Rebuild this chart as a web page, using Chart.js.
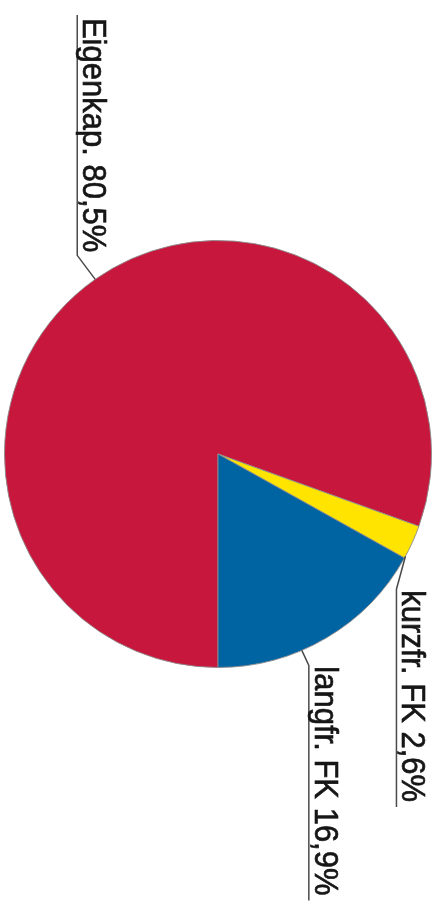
<!DOCTYPE html>
<html>
<head>
<meta charset="utf-8">
<script src="https://cdn.jsdelivr.net/npm/chart.js@4.4.1/dist/chart.umd.min.js"></script>
<style>
  html, body { margin: 0; padding: 0; background: #ffffff; }
  #wrap { width: 442px; height: 901px; position: relative; }
</style>
</head>
<body>
<div id="wrap"><canvas id="c" width="442" height="901"></canvas></div>
<script>
// Data
const categories = ['Eigenkap.', 'kurzfr. FK', 'langfr. FK'];
const values = [80.5, 2.6, 16.9];
const colors = ['#C8173C', '#FFE400', '#0063A2'];

// Label leader layout (annotation styling only)
const anchorFrac = [0.5, 0.94, 0.62];     // where on the slice's outer edge the leader starts
const elbowOffset = [[-18, -24], [-9, 33], [7, 15]];
const lineDir = [-1, 1, 1];                // label line goes up (-1) or down (1)

function fmt(v) { return v.toFixed(1).replace('.', ',') + '%'; }

const labelPlugin = {
  id: 'rotLabels',
  afterDatasetsDraw(chart) {
    const ctx = chart.ctx;
    const meta = chart.getDatasetMeta(0);
    const fontSize = 31;
    ctx.save();
    ctx.font = fontSize + 'px "Liberation Sans", Arial, sans-serif';
    meta.data.forEach((arc, i) => {
      const p = arc.getProps(['x', 'y', 'startAngle', 'endAngle', 'outerRadius'], true);
      const a = p.startAngle + (p.endAngle - p.startAngle) * anchorFrac[i];
      const ax = p.x + Math.cos(a) * p.outerRadius;
      const ay = p.y + Math.sin(a) * p.outerRadius;
      const ex = ax + elbowOffset[i][0];
      const ey = ay + elbowOffset[i][1];
      const text = categories[i] + ' ' + fmt(values[i]);
      const tw = ctx.measureText(text).width;
      const len = tw + 6;
      const endY = ey + lineDir[i] * len;
      ctx.strokeStyle = '#4a4a4a';
      ctx.lineWidth = 1.5;
      ctx.beginPath();
      ctx.moveTo(ax, ay);
      ctx.lineTo(ex, ey);
      ctx.lineTo(ex, endY);
      ctx.stroke();
      const textStart = lineDir[i] < 0 ? endY + 3 : ey + 1;
      ctx.save();
      ctx.translate(ex + 6, textStart);
      ctx.rotate(Math.PI / 2);
      ctx.scale(1, 1.08);
      ctx.fillStyle = '#161616';
      ctx.strokeStyle = '#161616';
      ctx.lineWidth = 0.6;
      ctx.textAlign = 'left';
      ctx.textBaseline = 'alphabetic';
      ctx.fillText(text, 0, 0);
      ctx.strokeText(text, 0, 0);
      ctx.restore();
    });
    ctx.restore();
  }
};

new Chart(document.getElementById('c'), {
  type: 'pie',
  data: {
    labels: categories,
    datasets: [{
      data: values,
      backgroundColor: colors,
      borderColor: 'rgba(140,140,140,0.9)',
      borderWidth: 1
    }]
  },
  options: {
    responsive: false,
    animation: false,
    rotation: 180,
    layout: { padding: { left: 4, right: 10, top: 240, bottom: 233 } },
    plugins: {
      legend: { display: false },
      tooltip: { enabled: false },
      title: { display: false }
    }
  },
  plugins: [labelPlugin]
});
</script>
</body>
</html>
